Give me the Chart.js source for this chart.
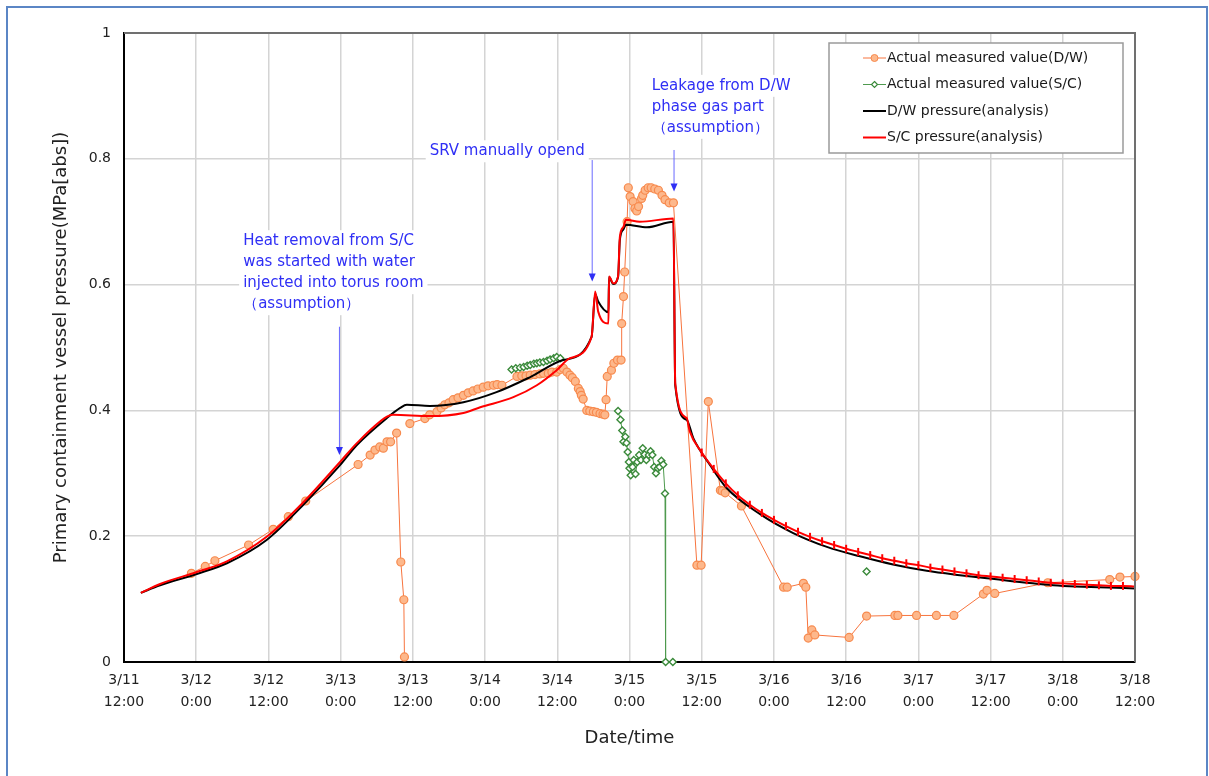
<!DOCTYPE html>
<html>
<head>
<meta charset="utf-8">
<script src="https://cdn.jsdelivr.net/npm/chart.js@4.4.1/dist/chart.umd.min.js"></script>
<style>
  html, body { margin: 0; padding: 0; background: #fff; overflow: hidden; }
  #wrap { position: relative; width: 1209px; height: 776px; }
  #frame { position: absolute; left: 6px; top: 6px; width: 1202px; height: 800px; box-sizing: border-box; border: 2px solid #5b86c5; pointer-events: none; }
</style>
</head>
<body>
<div id="wrap">
  <canvas id="chart" width="1209" height="776"></canvas>
  <div id="frame"></div>
</div>
<script>
// hours since 3/11 12:00
const tickDates = ['3/11', '3/12', '3/12', '3/13', '3/13', '3/14', '3/14', '3/15', '3/15', '3/16', '3/16', '3/17', '3/17', '3/18', '3/18'];
const tickTimes = ['12:00', '0:00', '12:00', '0:00', '12:00', '0:00', '12:00', '0:00', '12:00', '0:00', '12:00', '0:00', '12:00', '0:00', '12:00'];

// Actual measured value (D/W)
const dwMeasHours = [11.2, 13.5, 15.1, 20.7, 24.8, 27.3, 30.2, 38.9, 40.9, 41.7, 42.5, 43.1, 43.7, 44.3, 45.3, 46.0, 46.5, 46.6, 47.0,
    47.5, 50.0, 50.8, 52.0, 52.7, 53.3, 54.0, 54.7, 55.5, 56.4, 57.2, 58.0, 58.8, 59.7, 60.5, 61.4, 62.0, 62.8,
    65.3, 66.1, 66.8, 67.5, 68.3, 69.1, 69.7, 70.5, 71.1, 71.9, 72.5, 73.0, 73.6, 74.1, 74.5, 75.0, 75.5, 75.8, 76.0, 76.3, 76.9, 77.4, 78.0, 78.5, 79.1, 79.6, 79.9,
    80.1, 80.3, 81.0, 81.4, 82.0, 82.6, 82.7, 83.0, 83.2, 83.6,
    83.8, 84.1, 84.6, 84.9, 85.2, 85.5, 86.0, 86.2, 86.6, 87.1, 87.6, 88.2, 88.8, 89.4, 89.9, 90.6, 91.3,
    95.2, 95.9, 97.1, 99.1, 99.4, 99.9, 102.6, 109.6, 110.2, 112.9, 113.3, 113.7, 114.3, 114.8, 120.5, 123.4, 128.1, 128.6, 131.7, 135.0, 137.9, 142.8, 143.4, 144.7, 153.5, 163.8, 165.5, 168];
const dwMeasValues = [0.141, 0.152, 0.161, 0.186, 0.211, 0.231, 0.256, 0.314, 0.329, 0.337, 0.342, 0.340, 0.350, 0.350, 0.364, 0.159, 0.099, 0.008, null,
    0.379, 0.387, 0.393, 0.398, 0.404, 0.409, 0.412, 0.417, 0.420, 0.424, 0.428, 0.431, 0.434, 0.437, 0.439, 0.440, 0.441, 0.440,
    0.454, 0.455, 0.455, 0.456, 0.457, 0.458, 0.459, 0.459, 0.461, 0.461, 0.465, 0.467, 0.461, 0.456, 0.452, 0.446, 0.435, 0.430, 0.424, 0.418, 0.400, 0.399, 0.398, 0.397, 0.395, 0.394, 0.393,
    0.417, 0.454, 0.464, 0.475, 0.480, 0.480, 0.538, 0.581, 0.620, 0.700,
    0.754, 0.740, 0.732, 0.721, 0.717, 0.724, 0.737, 0.742, 0.750, 0.754, 0.754, 0.752, 0.750, 0.742, 0.735, 0.730, 0.730,
    0.154, 0.154, 0.414, 0.273, 0.272, 0.269, 0.248, 0.119, 0.119, 0.125, 0.119, 0.038, 0.051, 0.043, 0.039, 0.073, 0.074, 0.074, 0.074, 0.074, 0.074, 0.108, 0.114, 0.109, 0.126, 0.131, 0.135, 0.136];

// Actual measured value (S/C)
const scMeasHours = [64.4, 65.1, 65.8, 66.4, 67.0, 67.5, 68.1, 68.6, 69.1, 69.7, 70.3, 70.8, 71.4, 71.9, 72.5, 73.0,
    82.1, 82.5, 82.8, 83.0, 83.3, 83.5, 83.7, 83.9, 84.0, 84.2, 84.5, 84.7, 85.0, 85.3, 85.6, 85.9, 86.2, 86.5, 86.8, 87.2,
    87.5, 87.8, 88.1, 88.4, 88.7, 89.0, 89.3, 89.6, 89.9, 90.0, 91.2, 92.0, 123.4];
const scMeasValues = [0.465, 0.467, 0.468, 0.469, 0.471, 0.472, 0.474, 0.475, 0.476, 0.477, 0.479, 0.481, 0.483, 0.485, 0.483, null,
    0.399, 0.385, 0.368, 0.350, 0.358, 0.348, 0.334, 0.318, 0.308, 0.297, 0.310, 0.321, 0.299, 0.318, 0.329, 0.321, 0.340, 0.330, 0.321, 0.329,
    0.335, 0.329, 0.310, 0.300, 0.308, 0.310, 0.320, 0.314, 0.268, 0.0, 0.0, null, 0.144];

// D/W pressure (analysis)
const dwCalcHours = [2.8, 6.0, 12.1, 17.1, 23.7, 29.8, 35.9, 38.7, 43.7, 45.9, 47.0, 50.8, 56.4, 61.9, 67.5, 73.0, 77.7, 78.3, 78.8, 80.5,
    80.6, 81.3, 82.1, 82.4, 83.0, 83.4, 86.9, 91.3, 91.6, 93.5, 94.6, 97.4, 100.1, 105.7, 111.2, 116.8, 122.3, 127.8, 133.4, 138.9, 143.4, 154.4, 168];
const dwCalcValues = [0.110, 0.122, 0.140, 0.157, 0.194, 0.250, 0.313, 0.345, 0.388, 0.404, 0.409, 0.407, 0.413, 0.429, 0.453, 0.480, 0.517, 0.585, 0.573, 0.556,
    0.612, 0.601, 0.612, 0.671, 0.688, 0.695, 0.691, 0.700, 0.440, 0.385, 0.356, 0.313, 0.277, 0.235, 0.205, 0.183, 0.168, 0.155, 0.145, 0.138, 0.133, 0.122, 0.117];

// S/C pressure (analysis)
const scCalcHours = [2.8, 6.0, 12.1, 17.1, 23.7, 29.8, 35.9, 38.7, 43.7, 44.7, 50.8, 56.4, 59.2, 64.7, 68.6, 71.9, 74.1, 77.7, 78.3, 78.8,
    80.5, 80.6, 81.3, 82.1, 82.4, 83.0, 83.4, 85.7, 91.3, 91.6, 93.5, 94.0,
    96, 98, 100, 102, 104, 106, 108, 110, 112, 114, 116, 118, 120, 122, 124, 126, 128, 130, 132, 134,
    136, 138, 140, 142, 144, 146, 148, 150, 152, 154, 156, 158, 160, 162, 164, 166, 168];
const scCalcValues = [0.110, 0.124, 0.143, 0.160, 0.199, 0.254, 0.318, 0.348, 0.390, 0.393, 0.391, 0.396, 0.405, 0.421, 0.440, 0.464, 0.483, 0.517, 0.589, 0.557,
    0.538, 0.613, 0.602, 0.613, 0.676, 0.692, 0.703, 0.700, 0.705, 0.443, 0.388, 0.367,
    0.333, 0.307, 0.284, 0.265, 0.250, 0.237, 0.226, 0.216, 0.207, 0.199, 0.192, 0.186, 0.180, 0.175, 0.170, 0.165, 0.161, 0.157, 0.154, 0.150,
    0.147, 0.144, 0.141, 0.138, 0.136, 0.134, 0.132, 0.130, 0.128, 0.126, 0.125, 0.124, 0.123, 0.122, 0.121, 0.121, 0.120];

const notes = [
    { h: 19.8, v: 0.669, lines: ['Heat removal from S/C', 'was started with water', 'injected into torus room', '（assumption）'], arrowH: 35.8, from: 0.533, to: 0.329 },
    { h: 50.8, v: 0.812, lines: ['SRV manually opend'], arrowH: 77.8, from: 0.798, to: 0.605 },
    { h: 87.7, v: 0.916, lines: ['Leakage from D/W', 'phase gas part', '（assumption）'], arrowH: 91.4, from: 0.814, to: 0.748 },
];

const FONT = 'DejaVu Sans';
const ORANGE = { line: '#f7743e', fill: '#fdb88c', edge: '#f78a4e' };
const GREEN = { line: '#4f9a4f', edge: '#3a8a3a' };

const pts = (xs, ys) => xs.map((x, i) => ({ x, y: ys[i] }));

const legendItems = [
    { label: 'Actual measured value(D/W)', color: ORANGE.line, marker: 'circle' },
    { label: 'Actual measured value(S/C)', color: GREEN.line, marker: 'diamond' },
    { label: 'D/W pressure(analysis)', color: '#000000' },
    { label: 'S/C pressure(analysis)', color: '#ff0000' },
];

const notesPlugin = {
    id: 'notes',
    beforeDatasetsDraw(chart) {
        const { ctx, scales: { x, y } } = chart;
        ctx.save();
        ctx.font = `15px "${FONT}"`;
        ctx.textBaseline = 'middle';
        notes.forEach(n => {
            const left = x.getPixelForValue(n.h);
            const top = y.getPixelForValue(n.v);
            ctx.fillStyle = '#ffffff';
            n.lines.forEach((line, i) => {
                const w = ctx.measureText(line).width;
                ctx.fillRect(left - 4, top + i * 21 - 11, w + 8, 22);
            });
            ctx.fillStyle = '#2f2ff5';
            n.lines.forEach((line, i) => ctx.fillText(line, left, top + i * 21));

            // arrow
            const ax = x.getPixelForValue(n.arrowH);
            const y0 = y.getPixelForValue(n.from);
            const y1 = y.getPixelForValue(n.to);
            ctx.strokeStyle = '#6a6aff';
            ctx.lineWidth = 1;
            ctx.beginPath();
            ctx.moveTo(ax, y0);
            ctx.lineTo(ax, y1 - 6);
            ctx.stroke();
            ctx.fillStyle = '#2f2ff5';
            ctx.beginPath();
            ctx.moveTo(ax - 3.5, y1 - 8);
            ctx.lineTo(ax + 3.5, y1 - 8);
            ctx.lineTo(ax, y1);
            ctx.closePath();
            ctx.fill();
        });
        ctx.restore();
    },
    afterDraw(chart) {
        const { ctx, chartArea: a } = chart;
        ctx.save();
        // top / right frame
        ctx.strokeStyle = '#707070';
        ctx.lineWidth = 2;
        ctx.beginPath();
        ctx.moveTo(a.left, a.top);
        ctx.lineTo(a.right, a.top);
        ctx.lineTo(a.right, a.bottom);
        ctx.stroke();

        // legend box
        const bx = a.right - 306, by = a.top + 10, bw = 294, bh = 110;
        ctx.fillStyle = '#ffffff';
        ctx.fillRect(bx, by, bw, bh);
        ctx.strokeStyle = '#9a9a9a';
        ctx.lineWidth = 1.5;
        ctx.strokeRect(bx, by, bw, bh);
        ctx.font = `14px "${FONT}"`;
        ctx.textBaseline = 'middle';
        legendItems.forEach((item, i) => {
            const ly = by + 15 + i * 26.5;
            const x0 = bx + 34, x1 = bx + 57;
            ctx.strokeStyle = item.color;
            ctx.lineWidth = item.marker ? 1 : 2;
            ctx.beginPath();
            ctx.moveTo(x0, ly);
            ctx.lineTo(x1, ly);
            ctx.stroke();
            const mx = (x0 + x1) / 2;
            if (item.marker === 'circle') {
                ctx.fillStyle = ORANGE.fill;
                ctx.strokeStyle = ORANGE.edge;
                ctx.beginPath();
                ctx.arc(mx, ly, 3.5, 0, Math.PI * 2);
                ctx.fill();
                ctx.stroke();
            } else if (item.marker === 'diamond') {
                ctx.fillStyle = '#ffffff';
                ctx.strokeStyle = GREEN.edge;
                ctx.lineWidth = 1.2;
                ctx.beginPath();
                ctx.moveTo(mx, ly - 3);
                ctx.lineTo(mx + 3, ly);
                ctx.lineTo(mx, ly + 3);
                ctx.lineTo(mx - 3, ly);
                ctx.closePath();
                ctx.fill();
                ctx.stroke();
            }
            ctx.fillStyle = '#1a1a1a';
            ctx.fillText(item.label, x1 + 1, ly);
        });
        ctx.restore();
    }
};

new Chart(document.getElementById('chart'), {
    type: 'line',
    data: {
        datasets: [
            {
                label: 'S/C pressure(analysis)',
                data: pts(scCalcHours, scCalcValues),
                borderColor: '#ff0000',
                backgroundColor: '#ff0000',
                borderWidth: 2,
                cubicInterpolationMode: 'monotone',
                pointStyle: 'line',
                rotation: 90,
                pointRadius: ctx => (scCalcHours[ctx.dataIndex] >= 95 ? 4 : 0),
                pointBorderWidth: 2,
                pointBorderColor: '#ff0000',
            },
            {
                label: 'D/W pressure(analysis)',
                data: pts(dwCalcHours, dwCalcValues),
                borderColor: '#000000',
                borderWidth: 2,
                cubicInterpolationMode: 'monotone',
                pointRadius: 0,
            },
            {
                label: 'Actual measured value(S/C)',
                data: pts(scMeasHours, scMeasValues),
                borderColor: GREEN.line,
                borderWidth: 1,
                pointStyle: 'rectRot',
                pointRadius: 3.5,
                pointBackgroundColor: '#ffffff',
                pointBorderColor: GREEN.edge,
                pointBorderWidth: 1.4,
                spanGaps: false,
                clip: false,
            },
            {
                label: 'Actual measured value(D/W)',
                data: pts(dwMeasHours, dwMeasValues),
                borderColor: ORANGE.line,
                borderWidth: 1,
                pointStyle: 'circle',
                pointRadius: 4,
                pointBackgroundColor: ORANGE.fill,
                pointBorderColor: ORANGE.edge,
                pointBorderWidth: 1.2,
                spanGaps: false,
                clip: false,
            },
        ],
    },
    options: {
        responsive: false,
        animation: false,
        events: [],
        layout: { padding: { left: 0, top: 33, right: 74, bottom: 0 } },
        plugins: { legend: { display: false }, tooltip: { enabled: false } },
        scales: {
            x: {
                type: 'linear',
                min: 0,
                max: 168,
                afterFit: s => { s.height = 114; },
                grid: { color: '#d4d4d4', lineWidth: 1.5, drawTicks: false },
                border: { color: '#000000', width: 2 },
                ticks: {
                    stepSize: 12,
                    autoSkip: false,
                    maxRotation: 0,
                    padding: 7,
                    color: '#222',
                    font: { family: FONT, size: 14, lineHeight: 1.57 },
                    callback: v => {
                        const i = Math.round(v / 12);
                        return [tickDates[i], tickTimes[i]];
                    },
                },
                title: {
                    display: true,
                    text: 'Date/time',
                    color: '#222',
                    font: { family: FONT, size: 18 },
                    padding: { top: 0, bottom: 27 },
                },
            },
            y: {
                min: 0,
                max: 1,
                afterFit: s => { s.width = 124; },
                grid: { color: '#d4d4d4', lineWidth: 1.5, drawTicks: false },
                border: { color: '#000000', width: 2 },
                ticks: {
                    stepSize: 0.2,
                    padding: 13,
                    color: '#222',
                    font: { family: FONT, size: 14 },
                    callback: v => String(+v.toFixed(1)),
                },
                title: {
                    display: true,
                    text: 'Primary containment vessel pressure(MPa[abs])',
                    color: '#222',
                    font: { family: FONT, size: 18 },
                    padding: { top: 51, bottom: 0 },
                },
            },
        },
    },
    plugins: [notesPlugin],
});
</script>
</body>
</html>
